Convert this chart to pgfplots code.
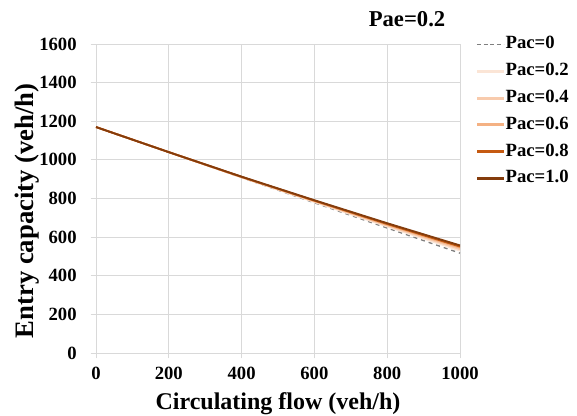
\documentclass[border=0pt]{standalone}
\usepackage{pgfplots}
\pgfplotsset{compat=1.18}
\usepackage{fontspec}
\setmainfont{Liberation Serif}
\definecolor{pacgray}{HTML}{7F7F7F}
\definecolor{pacA}{HTML}{FBE5D6}
\definecolor{pacB}{HTML}{F8CBAD}
\definecolor{pacC}{HTML}{F4B183}
\definecolor{pacD}{HTML}{C55A11}
\definecolor{pacE}{HTML}{843C0C}
\definecolor{gridc}{HTML}{D9D9D9}
\begin{document}
\begin{tikzpicture}
\begin{axis}[
  scale only axis,
  width=273pt, height=231.75pt,
  xmin=0, xmax=1000, ymin=0, ymax=1600,
  xtick={0,200,...,1000}, ytick={0,200,...,1600},
  grid=major,
  major grid style={gridc, line width=0.6pt},
  axis line style={gridc, line width=0.6pt},
  axis x line*=bottom, axis y line*=left,
  tick style={gridc, line width=0.6pt},
  tick align=outside,
  major tick length=4pt,
  ticklabel style={font=\fontsize{14}{16}\selectfont\bfseries, text=black},
  yticklabel style={xshift=-7pt},
  xticklabel style={yshift=-3pt},
  /pgf/number format/assume math mode=true,
  /pgf/number format/1000 sep={},
  xlabel={Circulating flow (veh/h)},
  ylabel={Entry capacity (veh/h)},
  xlabel style={font=\fontsize{18}{20}\selectfont\bfseries, yshift=-3pt},
  ylabel style={font=\fontsize{20}{22}\selectfont\bfseries, at={(ticklabel cs:0.46)}, yshift=-7pt},
  legend style={at={(rel axis cs:1,1)}, anchor=north west, xshift=12pt, yshift=6.5pt,
    draw=none, fill=none, font=\fontsize{14}{16}\selectfont\bfseries,
    nodes={text height=10pt, text depth=3pt, inner sep=0pt, inner xsep=1pt},
    row sep=7.1pt, inner sep=0pt},
  legend cell align=left,
]
\addplot[pacgray, dashed, line width=1pt, forget plot] coordinates {(0,1170) (200,1040) (400,908) (600,778) (800,647) (1000,517)};
\addplot[pacA, line width=1.4pt, forget plot] coordinates {(0,1170) (200,1040) (400,910) (600,782) (800,655) (1000,530)};
\addplot[pacB, line width=1.4pt, forget plot] coordinates {(0,1170) (200,1040) (400,910) (600,785) (800,660) (1000,538)};
\addplot[pacC, line width=1.4pt, forget plot] coordinates {(0,1170) (200,1040) (400,911) (600,787) (800,664) (1000,545)};
\addplot[pacD, line width=1.4pt, forget plot] coordinates {(0,1170) (200,1040) (400,912) (600,789) (800,668) (1000,551)};
\addplot[pacE, line width=1.4pt, forget plot] coordinates {(0,1170) (200,1040) (400,913) (600,791) (800,672) (1000,557)};
\addlegendimage{legend image code/.code={\draw[pacgray, line width=1pt, dash pattern=on 3pt off 2pt] (0pt,0pt) -- (20pt,0pt);}}
\addlegendentry{Pac=0}
\addlegendimage{legend image code/.code={\fill[pacA] (0pt,-0.75pt) rectangle (20pt,0.75pt);}}
\addlegendentry{Pac=0.2}
\addlegendimage{legend image code/.code={\fill[pacB] (0pt,-0.75pt) rectangle (20pt,0.75pt);}}
\addlegendentry{Pac=0.4}
\addlegendimage{legend image code/.code={\fill[pacC] (0pt,-0.75pt) rectangle (20pt,0.75pt);}}
\addlegendentry{Pac=0.6}
\addlegendimage{legend image code/.code={\fill[pacD] (0pt,-0.75pt) rectangle (20pt,0.75pt);}}
\addlegendentry{Pac=0.8}
\addlegendimage{legend image code/.code={\fill[pacE] (0pt,-0.75pt) rectangle (20pt,0.75pt);}}
\addlegendentry{Pac=1.0}
\end{axis}
\node[font=\fontsize{17}{19}\selectfont\bfseries, anchor=base east] at ([xshift=-7.5pt,yshift=12.75pt]current axis.north east) {Pae=0.2};
\pgfresetboundingbox
\path (current axis.south west) ++(-72pt,-47.25pt) coordinate (bl);
\path (current axis.north east) ++(87.75pt,33pt) coordinate (tr);
\path (bl) rectangle (tr);
\end{tikzpicture}
\end{document}
